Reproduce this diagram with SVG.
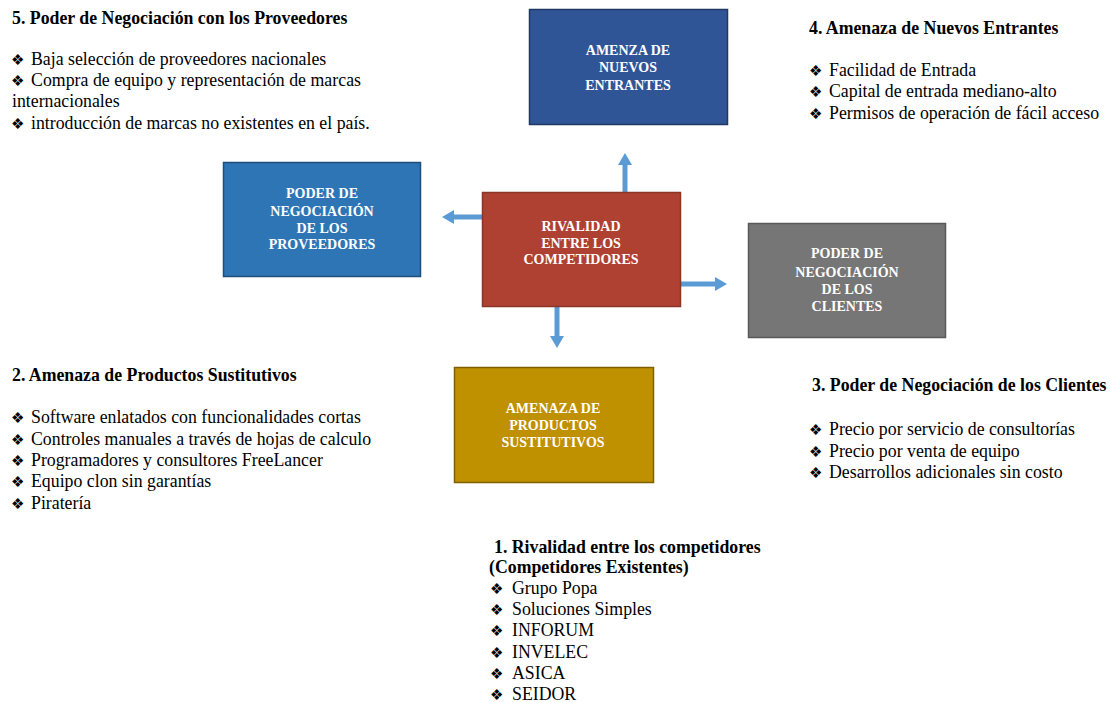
<svg xmlns="http://www.w3.org/2000/svg" width="1110" height="702" viewBox="0 0 1110 702">
<style>
.h{font-family:"Liberation Serif","Times New Roman",serif;font-weight:bold;font-size:17.8px;fill:#000}
.t{font-family:"Liberation Serif","Times New Roman",serif;font-size:17.8px;fill:#000}
.b{font-family:"DejaVu Sans",sans-serif;font-size:15px;fill:#000}
.bx{font-family:"Liberation Serif","Times New Roman",serif;font-weight:bold;font-size:14px;fill:#fff;text-anchor:middle}
.ar{fill:none;stroke:#5B9BD5;stroke-width:5}
</style>
<defs>
<marker id="ah" markerUnits="userSpaceOnUse" markerWidth="12" markerHeight="14" refX="0" refY="7" orient="auto">
<path d="M0,0 L12,7 L0,14 z" fill="#5B9BD5"/>
</marker>
</defs>
<rect width="1110" height="702" fill="#fff"/>

<g id="connectors">
<path class="ar" d="M625,192 V165" marker-end="url(#ah)"/>
<path class="ar" d="M482,217 H454" marker-end="url(#ah)"/>
<path class="ar" d="M680,284 H715" marker-end="url(#ah)"/>
<path class="ar" d="M557,306 V336" marker-end="url(#ah)"/>
</g>

<g id="node-nuevos">
<rect x="529.5" y="9.5" width="198" height="115" fill="#2F5597" stroke="#203864" stroke-width="1.5"/>
<text class="bx" x="628" y="55">AMENZA  DE</text>
<text class="bx" x="628" y="72">NUEVOS</text>
<text class="bx" x="628" y="90">ENTRANTES</text>
</g>

<g id="node-proveedores">
<rect x="223.5" y="162.5" width="197" height="114" fill="#2E75B6" stroke="#1F4E79" stroke-width="1.5"/>
<text class="bx" x="322" y="198">PODER DE</text>
<text class="bx" x="322" y="216">NEGOCIACIÓN</text>
<text class="bx" x="322" y="233">DE LOS</text>
<text class="bx" x="322" y="249">PROVEEDORES</text>
</g>

<g id="node-rivalidad">
<rect x="482.5" y="192.5" width="198" height="114" fill="#AE4132" stroke="#8C3428" stroke-width="1.5"/>
<text class="bx" x="581" y="231">RIVALIDAD</text>
<text class="bx" x="581" y="248">ENTRE  LOS</text>
<text class="bx" x="581" y="264">COMPETIDORES</text>
</g>

<g id="node-clientes">
<rect x="748.5" y="223.5" width="197" height="114" fill="#767676" stroke="#595959" stroke-width="1.5"/>
<text class="bx" x="847" y="258">PODER DE</text>
<text class="bx" x="847" y="277">NEGOCIACIÓN</text>
<text class="bx" x="847" y="294">DE LOS</text>
<text class="bx" x="847" y="311">CLIENTES</text>
</g>

<g id="node-sustitutivos">
<rect x="454.5" y="367.5" width="199" height="115" fill="#BF9000" stroke="#7F6000" stroke-width="1.5"/>
<text class="bx" x="553" y="413">AMENAZA  DE</text>
<text class="bx" x="553" y="430">PRODUCTOS</text>
<text class="bx" x="553" y="447">SUSTITUTIVOS</text>
</g>

<g id="text-proveedores">
<text class="h" x="12" y="24">5. Poder de Negociación con los Proveedores</text>
<text class="b" x="11" y="65">❖</text><text class="t" x="31" y="65">Baja selección de proveedores nacionales</text>
<text class="b" x="11" y="86">❖</text><text class="t" x="31" y="86" textLength="330" lengthAdjust="spacing">Compra de equipo y representación de marcas</text>
<text class="t" x="12" y="107">internacionales</text>
<text class="b" x="11" y="129">❖</text><text class="t" x="31" y="129">introducción de marcas no existentes en el país.</text>
</g>

<g id="text-nuevos">
<text class="h" x="809" y="34">4. Amenaza de Nuevos Entrantes</text>
<text class="b" x="809" y="76">❖</text><text class="t" x="829" y="76">Facilidad de Entrada</text>
<text class="b" x="809" y="97">❖</text><text class="t" x="829" y="97">Capital de entrada mediano-alto</text>
<text class="b" x="809" y="119">❖</text><text class="t" x="829" y="119">Permisos de operación de fácil acceso</text>
</g>

<g id="text-sustitutivos">
<text class="h" x="12" y="381">2. Amenaza de Productos Sustitutivos</text>
<text class="b" x="11" y="423">❖</text><text class="t" x="31" y="423">Software enlatados con funcionalidades cortas</text>
<text class="b" x="11" y="445">❖</text><text class="t" x="31" y="445">Controles manuales a través de hojas de calculo</text>
<text class="b" x="11" y="466">❖</text><text class="t" x="31" y="466">Programadores y consultores FreeLancer</text>
<text class="b" x="11" y="487">❖</text><text class="t" x="31" y="487">Equipo clon sin garantías</text>
<text class="b" x="11" y="509">❖</text><text class="t" x="31" y="509">Piratería</text>
</g>

<g id="text-clientes">
<text class="h" x="812" y="391">3. Poder de Negociación de los Clientes</text>
<text class="b" x="809" y="435">❖</text><text class="t" x="829" y="435">Precio por servicio de consultorías</text>
<text class="b" x="809" y="457">❖</text><text class="t" x="829" y="457">Precio por venta de equipo</text>
<text class="b" x="809" y="478">❖</text><text class="t" x="829" y="478">Desarrollos adicionales sin costo</text>
</g>

<g id="text-rivalidad">
<text class="h" x="494" y="553">1. Rivalidad entre los competidores</text>
<text class="h" x="489" y="573">(Competidores Existentes)</text>
<text class="b" x="490" y="594">❖</text><text class="t" x="512" y="594">Grupo Popa</text>
<text class="b" x="490" y="615">❖</text><text class="t" x="512" y="615">Soluciones Simples</text>
<text class="b" x="490" y="636">❖</text><text class="t" x="512" y="636">INFORUM</text>
<text class="b" x="490" y="658">❖</text><text class="t" x="512" y="658">INVELEC</text>
<text class="b" x="490" y="679">❖</text><text class="t" x="512" y="679">ASICA</text>
<text class="b" x="490" y="700">❖</text><text class="t" x="512" y="700">SEIDOR</text>
</g>
</svg>
